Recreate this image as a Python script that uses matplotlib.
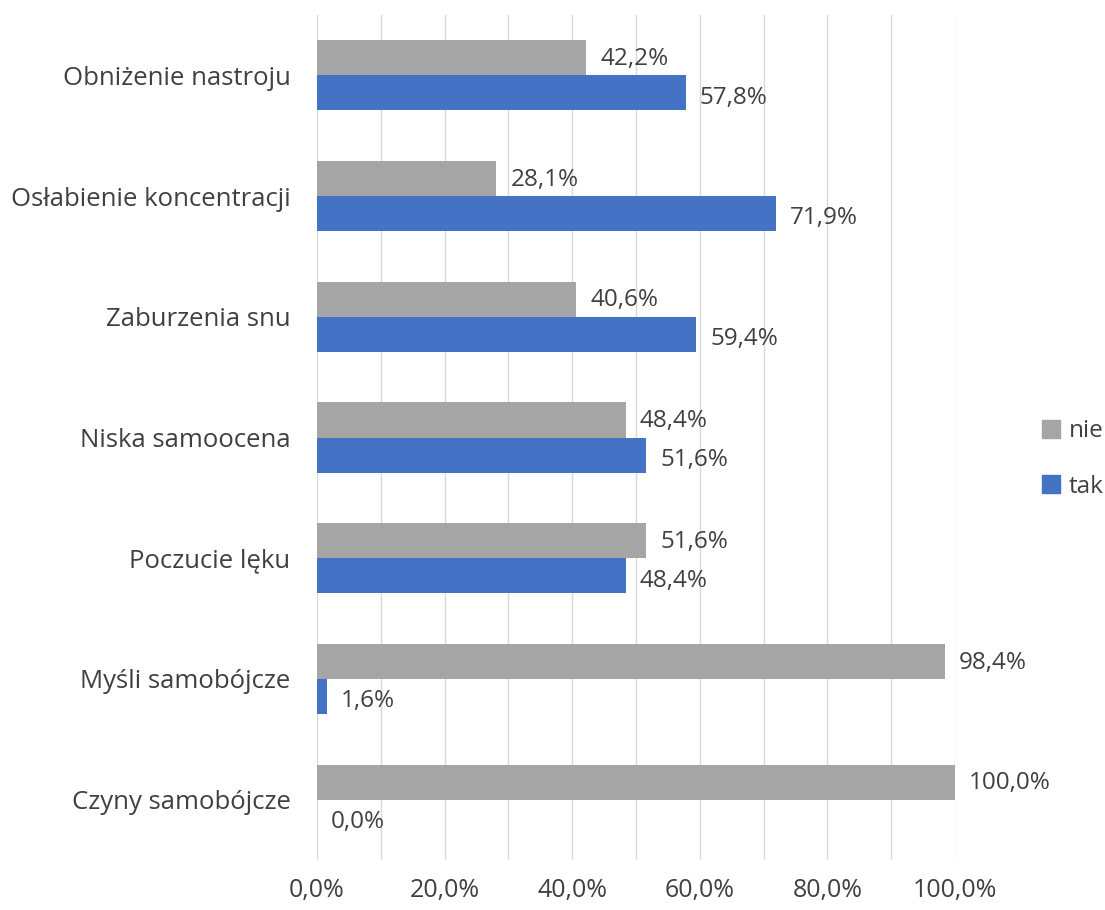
import numpy as np
import matplotlib
matplotlib.use("Agg")
import matplotlib.pyplot as plt
from matplotlib.patches import Patch

plt.rcParams['font.family'] = ['Open Sans', 'DejaVu Sans']

categories = ["Obniżenie nastroju", "Osłabienie koncentracji", "Zaburzenia snu",
              "Niska samoocena", "Poczucie lęku", "Myśli samobójcze", "Czyny samobójcze"]
nie = [42.2, 28.1, 40.6, 48.4, 51.6, 98.4, 100.0]
tak = [57.8, 71.9, 59.4, 51.6, 48.4, 1.6, 0.0]

c_nie = "#A5A5A5"
c_tak = "#4472C4"
fs = 17.5

fig = plt.figure(figsize=(11.05, 9.1), dpi=100)
ax = fig.add_axes([317 / 1105, 1 - 860 / 910, (955 - 317) / 1105, 845 / 910])

y = np.arange(len(categories))
h = 0.29
ax.barh(y - h / 2, nie, height=h, color=c_nie, zorder=3)
ax.barh(y + h / 2, tak, height=h, color=c_tak, zorder=3)

fmt = lambda v: f"{v:.1f}%".replace(".", ",")
for i in range(len(categories)):
    ax.text(nie[i] + 2.2, y[i] - h / 2 + 0.01, fmt(nie[i]), va="center", ha="left",
            fontsize=fs, color="#404040")
    ax.text(tak[i] + 2.2, y[i] + h / 2 + 0.04, fmt(tak[i]), va="center", ha="left",
            fontsize=fs, color="#404040")

ax.set_xlim(0, 100)
ax.set_ylim(len(categories) - 0.5, -0.5)
ax.set_yticks(y)
ax.set_yticklabels(categories, fontsize=18.5, color="#404040")
ax.set_xticks(np.arange(0, 101, 20))
ax.set_xticklabels([fmt(v) for v in np.arange(0, 101, 20)], fontsize=18, color="#404040")
ax.set_xticks(np.arange(0, 101, 10), minor=True)
ax.tick_params(axis="both", which="both", length=0)
ax.tick_params(axis="x", pad=13)
ax.tick_params(axis="y", pad=19)
ax.grid(axis="x", which="both", color="#D9D9D9", linewidth=1, zorder=0)
for s in ax.spines.values():
    s.set_visible(False)

handles = [Patch(color=c_nie, label="nie"), Patch(color=c_tak, label="tak")]
fig.legend(handles=handles, loc="center left", bbox_to_anchor=(1042 / 1105, 1 - 459 / 910),
           frameon=False, fontsize=fs, handlelength=0.75, handleheight=0.75,
           handletextpad=0.35, labelspacing=1.3, labelcolor="#404040",
           borderpad=0, borderaxespad=0)

fig.savefig("out.png", dpi=100)
